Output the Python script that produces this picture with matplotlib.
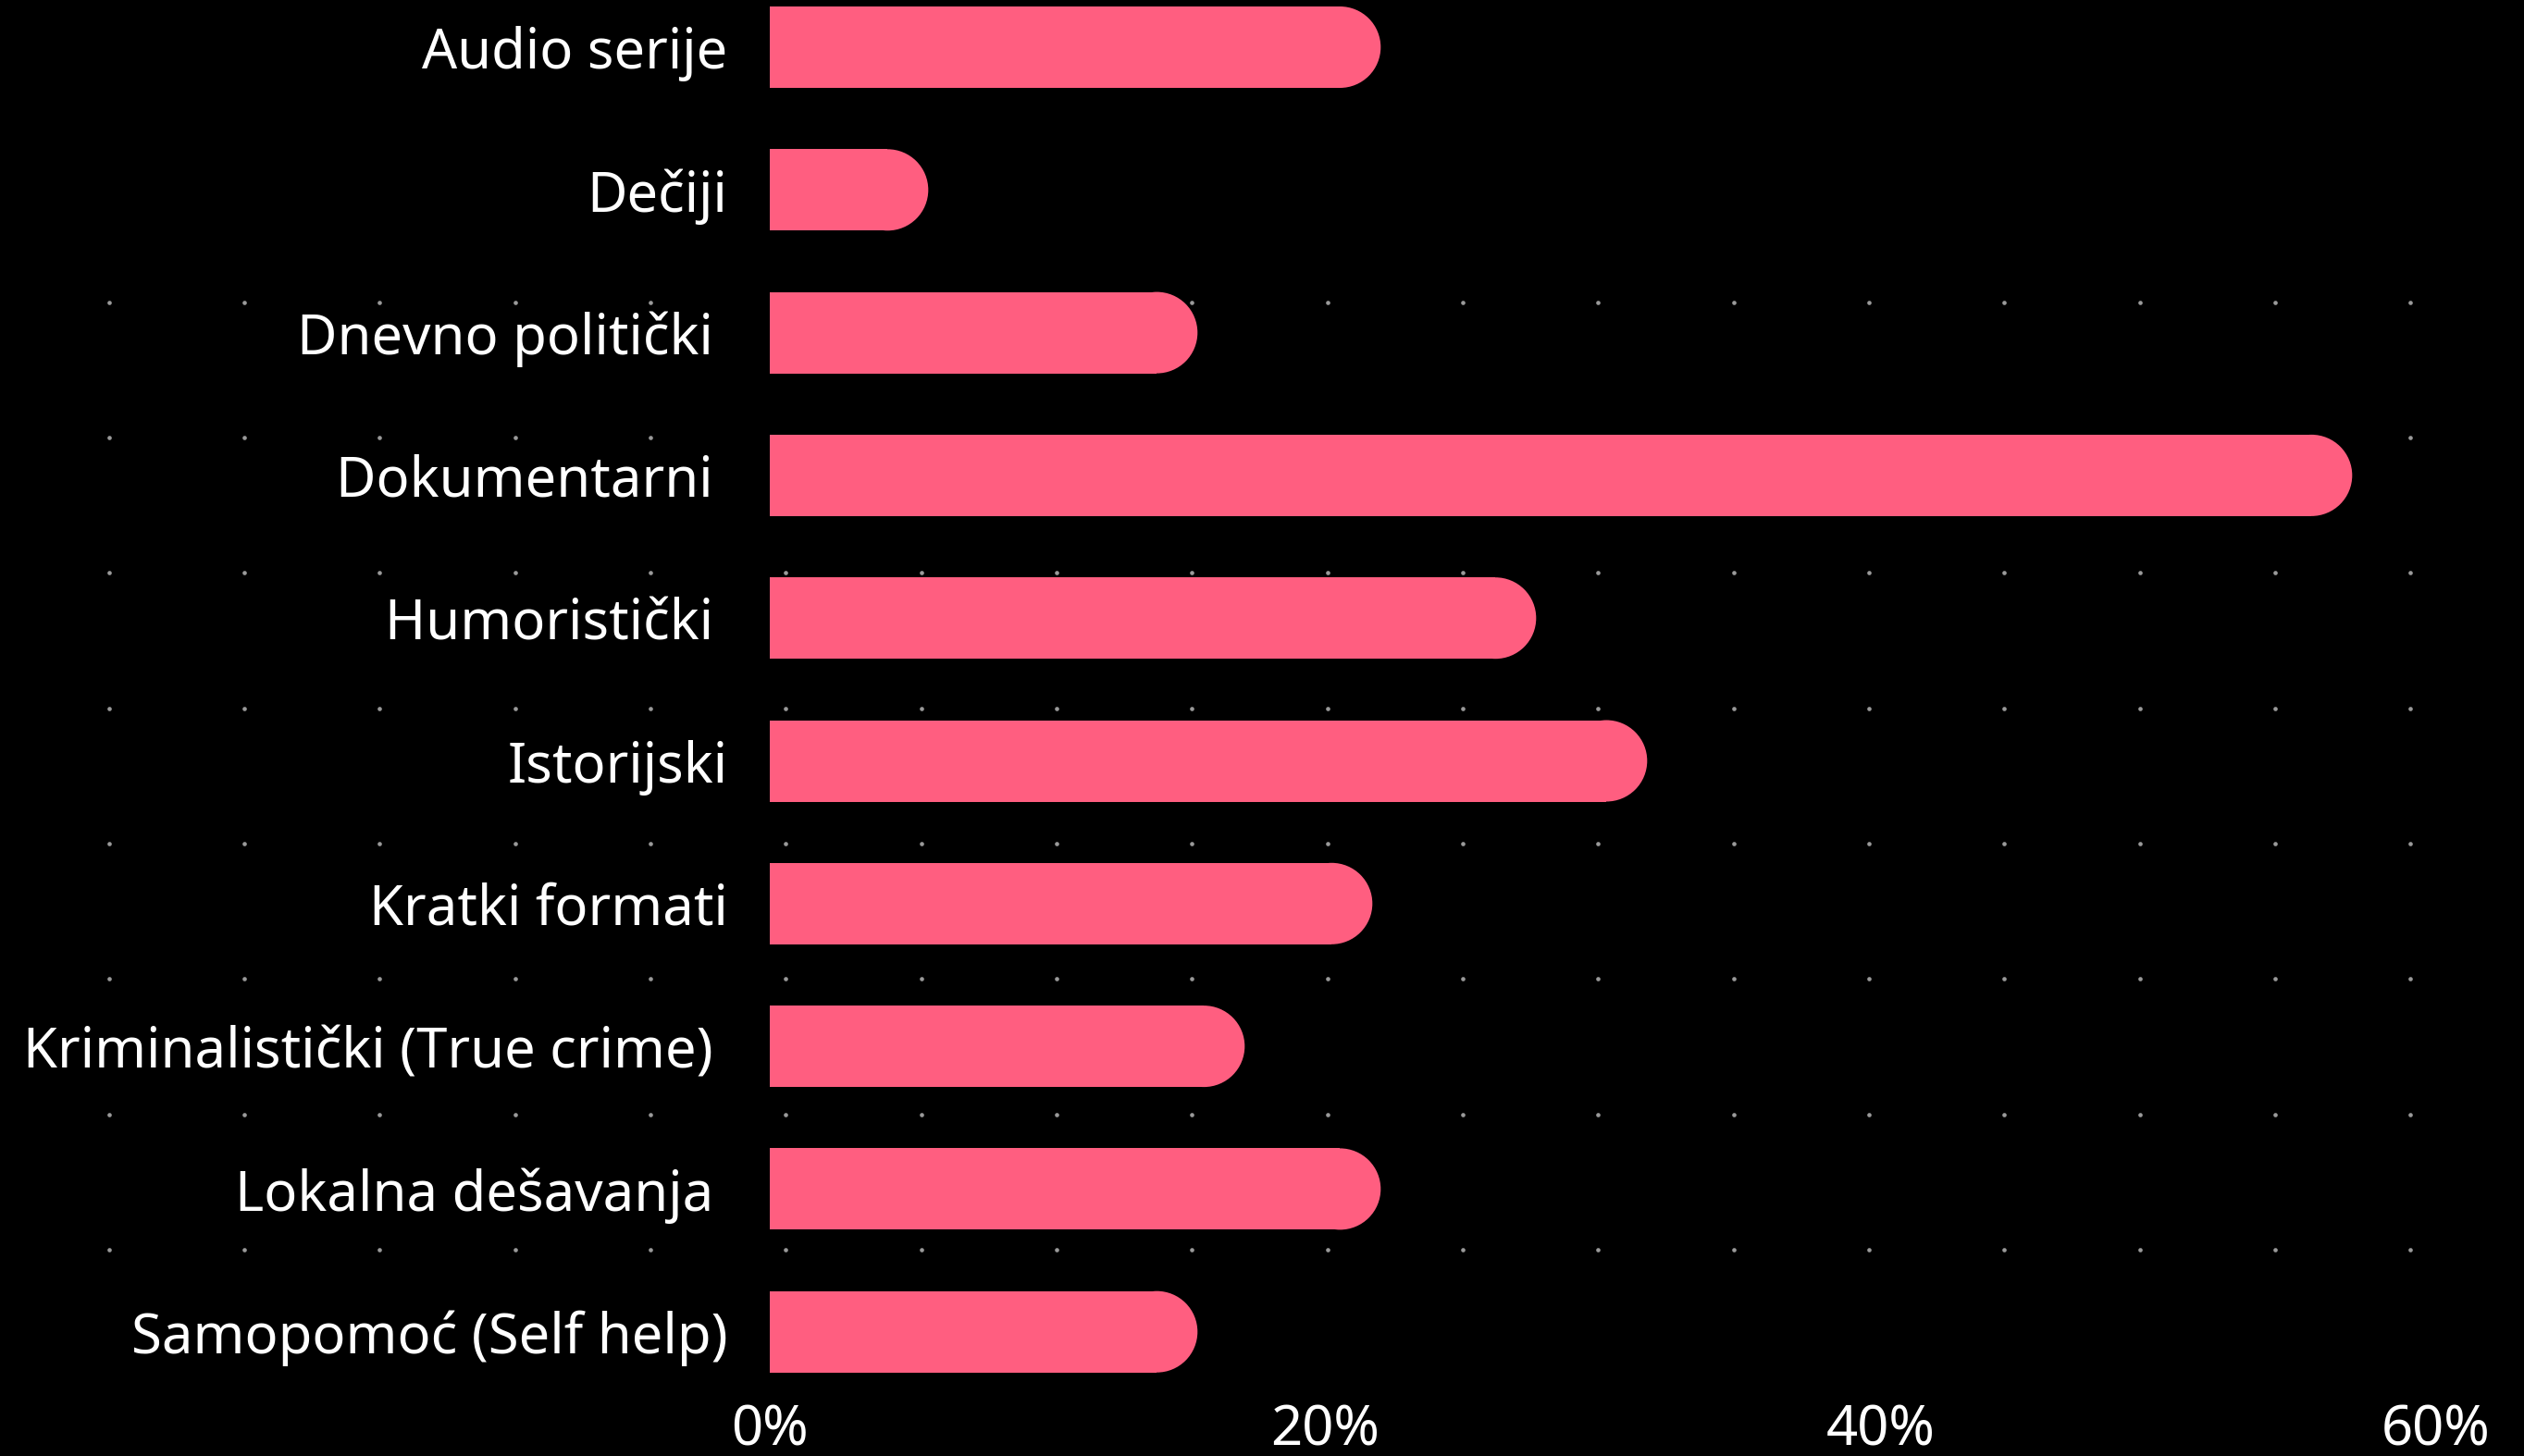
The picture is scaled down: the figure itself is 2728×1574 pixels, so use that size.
import matplotlib
matplotlib.use("Agg")
import matplotlib.pyplot as plt
from matplotlib.patches import Ellipse
import numpy as np

categories = ["Audio serije", "Dečiji", "Dnevno politički ", "Dokumentarni ",
              "Humoristički ", "Istorijski", "Kratki formati",
              "Kriminalistički (True crime) ", "Lokalna dešavanja ",
              "Samopomoć (Self help)"]
values = [22.0, 5.7, 15.4, 57.0, 27.6, 31.6, 21.7, 17.1, 22.0, 15.4]
xticks = [0, 20, 40, 60]
xtick_labels = ["0%", "20%", "40%", "60%"]

plt.rcParams['font.family'] = ['Noto Sans', 'DejaVu Sans']

W, H = 2728, 1574
DPI = 100
BG = "#000000"
BAR = "#FF5E80"
DOT = "#9a9a9a"

fig = plt.figure(figsize=(W / DPI, H / DPI), dpi=DPI, facecolor=BG)

# background dot grid (decoration)
bg = fig.add_axes([0, 0, 1, 1], zorder=0)
bg.set_xlim(0, W)
bg.set_ylim(H, 0)
bg.axis("off")
gx = 117.7 + 146.33 * np.arange(18)
gy = 326.7 + 146.33 * np.arange(8)
GX, GY = np.meshgrid(gx, gy)
bg.scatter(GX.ravel(), GY.ravel(), s=11, color=DOT, linewidths=0)

# main axes
x0_px, px_per_unit = 832.3, 30.0
c0_px, step_px = 51.0, 154.3
ax_top_px, ax_bot_px = 0.0, 1500.0
xmax = 60
ax_left = x0_px / W
ax_w = xmax * px_per_unit / W
ax = fig.add_axes([ax_left, 1 - ax_bot_px / H, ax_w, (ax_bot_px - ax_top_px) / H], zorder=1)
ax.patch.set_alpha(0)
ax.set_xlim(0, xmax)
ax.set_ylim((ax_bot_px - c0_px) / step_px, (ax_top_px - c0_px) / step_px)

bar_h = 88.0 / step_px
rx = 44.0 / px_per_unit
ypos = np.arange(len(categories))
ax.barh(ypos, [v - rx for v in values], height=bar_h, color=BAR, linewidth=0)
for y, v in zip(ypos, values):
    ax.add_patch(Ellipse((v - rx, y), 2 * rx, bar_h, color=BAR, linewidth=0))

ax.set_yticks(ypos)
ax.set_yticklabels(categories, fontsize=43, color="white")
ax.set_xticks(xticks)
ax.set_xticklabels(xtick_labels, fontsize=43, color="white")
ax.tick_params(axis="y", length=0, pad=33)
ax.tick_params(axis="x", length=0, pad=12)
for s in ax.spines.values():
    s.set_visible(False)

fig.savefig("out.png", dpi=DPI, facecolor=BG)
